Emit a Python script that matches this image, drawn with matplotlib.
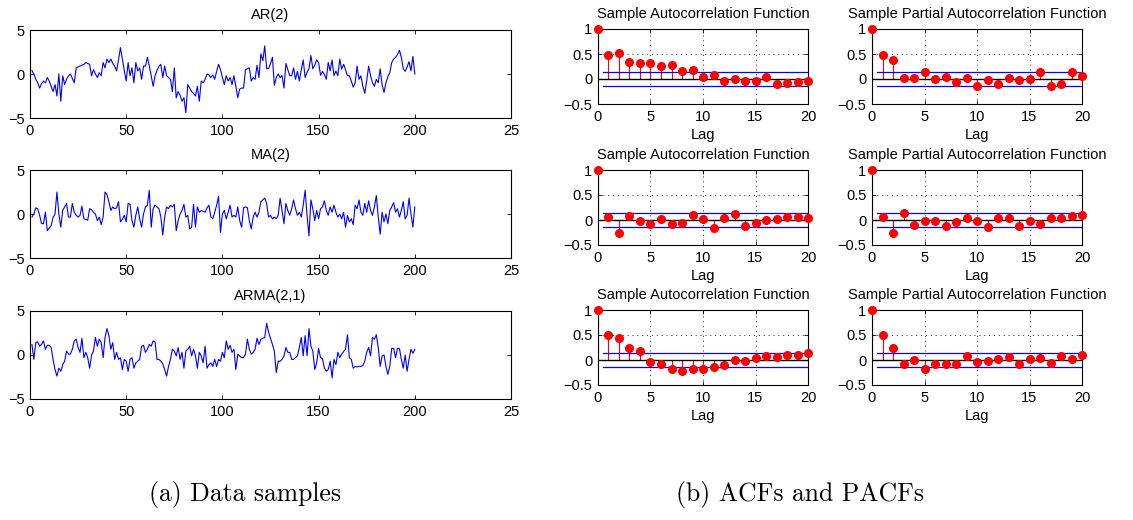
import numpy as np
import matplotlib.pyplot as plt

plt.rcParams['font.family'] = ['Liberation Sans', 'DejaVu Sans']

# simulated series, values (t = 1..200)
ar2 = [0.4, 0.0, -0.6, -1.0, -1.6, -1.1, -0.8, -1.0, -0.4, -0.8,
       -1.4, -2.0, -1.2, -2.5, 0.0, -3.1, -0.2, -1.2, -0.6, -0.2,
       0.0, -0.5, -1.0, 0.7, 0.8, 0.9, 1.0, 1.1, 1.3, 1.2,
       1.1, -0.2, 0.5, 0.0, -0.4, 0.15, -0.2, 1.3, 0.7, 1.7,
       1.3, 1.7, 1.2, 0.9, 0.35, 1.6, 3.0, 1.7, 0.4, -0.8,
       1.3, -0.2, 0.7, -1.0, 1.3, 0.35, 0.7, -0.6, 0.9, 0.9,
       1.9, 0.9, -0.2, -1.4, -0.2, 0.4, 0.9, 1.1, -0.4, 0.9,
       -0.2, -0.4, -0.6, -2.0, 0.7, -2.7, -2.0, -2.4, -3.1, -2.7,
       -4.4, -1.2, -1.6, -2.0, -2.2, -2.5, -1.4, -3.1, -0.8, -1.0,
       -0.6, 0.0, -0.1, -0.4, -0.1, -0.6, 0.3, 1.1, 0.5, -0.4,
       -1.2, -0.2, -0.8, -0.4, -1.2, -0.2, -1.4, -2.7, -1.7, -1.6,
       -1.6, 0.5, 0.6, 0.7, -0.8, -0.4, -0.6, 1.0, -0.4, 2.3,
       1.5, 3.2, 0.6, 0.6, 1.2, 1.9, -1.3, -0.4, 0.0, -0.4,
       -0.2, -1.6, 1.2, 0.5, -0.2, -0.2, 0.7, -0.6, 0.3, -0.8,
       0.5, 1.6, -0.4, 0.2, 0.6, 2.1, 0.6, 1.0, 1.6, 1.3,
       -0.15, 0.3, -0.05, -0.6, 1.3, 0.35, 1.6, -0.2, 0.35, -0.2,
       1.7, 0.55, 1.1, 0.5, -0.2, -0.2, -0.8, -1.5, -1.0, 0.9,
       -0.6, -0.2, -1.4, -2.2, -0.8, 0.9, -0.2, -1.0, -1.4, -0.6,
       -1.0, 0.6, -1.2, -2.1, -1.0, -0.3, 0.15, 1.3, 1.7, 1.9,
       2.2, 2.7, 1.9, 0.6, 0.3, 0.8, 1.4, 0.35, 2.0, 0.0]

ma2 = [-0.35, 0.0, 0.7, 0.6, -0.15, -1.1, -1.1, 0.2, -1.9, -1.6,
       -1.3, -0.4, 0.0, 2.5, 0.0, -1.5, 0.4, 0.8, 1.2, -0.35,
       -0.35, 1.2, 0.2, -0.15, -0.35, -0.15, 0.9, -0.55, -0.6, -0.7,
       0.6, 0.5, 0.2, 0.0, -0.75, -0.35, -1.2, -0.35, 2.5, 2.2,
       1.4, 0.4, 0.8, 0.6, 0.7, 1.4, -0.9, -0.6, -0.15, -0.9,
       1.2, 1.1, -0.75, -1.5, -0.15, 0.8, -0.55, -1.5, 0.0, 0.8,
       1.0, 2.7, -1.5, 0.6, 1.0, 0.8, 0.6, -0.3, -2.4, -0.35,
       0.8, 0.6, 1.0, 0.8, 1.1, -1.9, -0.75, 0.0, 0.4, 1.1,
       -0.35, -0.15, -1.7, -1.5, 1.1, -1.5, 0.8, 0.2, 0.4, 0.3,
       0.2, 0.7, 1.0, -0.35, -0.55, 0.2, 1.0, 2.0, -2.1, 0.0,
       0.4, -0.55, 0.2, 1.0, -0.35, -0.15, -0.35, 0.8, -0.75, -1.5,
       0.7, 0.8, 0.7, -0.75, -1.7, -0.35, 0.2, -0.35, 0.2, 1.4,
       1.6, 1.8, 1.2, -0.35, -0.15, -0.55, -0.35, -0.55, -0.15, 1.8,
       0.4, -1.1, 1.2, 0.4, -0.15, 0.6, 1.6, 0.6, -0.15, 0.2,
       -0.35, 1.0, 2.7, -0.15, -2.5, 1.6, 0.6, -0.75, 0.4, -0.55,
       0.6, 0.8, 1.5, 0.4, -0.15, 0.8, 0.2, 1.0, 0.2, -0.35,
       0.0, -0.55, 0.2, -1.5, -0.15, -0.9, -0.55, -1.2, 1.0, 0.6,
       1.6, 0.2, -0.15, 1.2, 0.2, 1.5, 0.4, -0.15, 0.8, 2.1,
       -0.35, -2.3, 0.2, -0.9, 0.0, -1.1, 0.4, 0.8, 1.3, 0.2,
       0.6, -0.35, 0.4, 1.4, -0.55, -0.15, 1.8, 0.0, -1.5, 0.8]

arma21 = [1.2, -0.5, 1.4, 1.5, 1.0, 1.2, 1.6, 0.65, 1.1, 1.1,
          0.85, -0.5, -1.65, -2.4, -1.5, -1.85, -1.1, -0.7, 0.45, 0.1,
          0.1, 0.65, 1.6, 1.8, 0.85, 0.3, 1.9, -0.3, 0.3, -0.3,
          -1.5, 0.0, 0.45, 2.0, 1.0, 1.8, 1.4, -0.3, 2.0, 3.0,
          2.2, 0.65, 1.4, -0.5, 0.3, -0.5, -0.3, -1.65, -0.5, -0.7,
          -1.85, -0.5, -0.3, -1.5, -0.9, -0.7, -0.5, 1.0, 1.1, 0.3,
          0.65, 1.2, 1.0, 1.6, 1.5, -0.5, -0.5, -0.7, -1.0, -1.65,
          -2.4, -1.3, -0.5, 0.65, 0.45, -0.1, 0.85, -0.5, 0.3, -1.5,
          0.45, 0.65, 1.0, -0.1, 0.65, -0.1, -1.5, 0.3, -0.1, -0.9,
          1.0, -1.5, -1.1, -0.9, -1.3, -0.5, -1.3, -0.5, -0.7, 0.3,
          -0.3, 1.6, 0.65, 1.1, 0.3, 0.65, -1.65, 0.1, -0.1, -0.3,
          -0.3, 0.1, 1.8, 0.65, 0.1, 0.3, 0.65, 1.9, 1.2, 1.8,
          1.9, 2.0, 3.6, 2.6, 1.9, 1.2, 0.45, -2.0, -0.7, -0.7,
          -0.5, -0.1, 0.85, 0.3, 0.3, -0.5, -0.5, -0.3, -0.1, 0.85,
          2.0, -0.1, 2.2, -0.1, 3.0, 1.0, 0.45, -1.65, -0.9, 0.75,
          -0.3, -0.4, -1.5, -1.85, -1.65, -0.7, -2.6, -0.5, -1.1, 0.3,
          -0.3, 0.1, 0.4, 0.65, 2.3, -0.3, -0.5, -1.5, -1.3, -1.35,
          -1.3, -1.3, -1.2, -0.7, 0.3, 0.85, -0.1, 2.0, 1.8, 2.3,
          0.85, -1.3, -0.1, 0.0, -1.3, -2.2, -1.3, 0.75, 0.75, -0.3,
          0.75, 0.75, -0.5, -1.5, 0.0, -1.85, -0.5, 0.65, 0.2, 0.65]

series_titles = ['AR(2)', 'MA(2)', 'ARMA(2,1)']
ts_xticks = [0, 50, 100, 150, 200, 250]
ts_xticklabels = ['0', '50', '100', '150', '200', '25']

lags = list(range(21))
acf = [
    [1, 0.49, 0.52, 0.35, 0.32, 0.33, 0.26, 0.28, 0.17, 0.19, 0.05,
     0.08, -0.03, 0.0, -0.03, -0.04, 0.05, -0.10, -0.08, -0.06, -0.03],
    [1, 0.07, -0.26, 0.08, -0.01, -0.07, 0.03, -0.07, -0.06, 0.10, 0.02,
     -0.15, 0.05, 0.13, -0.11, -0.06, 0.01, 0.03, 0.07, 0.07, 0.05],
    [1, 0.51, 0.44, 0.24, 0.18, -0.03, -0.08, -0.18, -0.22, -0.17, -0.18,
     -0.14, -0.09, 0.0, -0.01, 0.05, 0.08, 0.07, 0.10, 0.10, 0.15],
]
pacf = [
    [1, 0.49, 0.38, 0.02, 0.02, 0.14, 0.0, 0.05, -0.05, 0.03, -0.14,
     -0.01, -0.10, 0.02, -0.01, 0.0, 0.14, -0.14, -0.10, 0.14, 0.07],
    [1, 0.07, -0.26, 0.14, -0.10, -0.02, -0.01, -0.11, -0.03, 0.05, -0.02,
     -0.14, 0.05, 0.05, -0.11, -0.02, -0.07, 0.05, 0.04, 0.08, 0.10],
    [1, 0.51, 0.25, -0.07, 0.0, -0.18, -0.07, -0.07, -0.07, 0.08, -0.03,
     -0.02, 0.02, 0.06, -0.07, 0.03, 0.05, -0.05, 0.08, 0.02, 0.10],
]
bound = 0.141  # 2/sqrt(200)

W, H = 1133, 520
fig = plt.figure(figsize=(W / 100, H / 100), dpi=100)
FS = 10.5


def px_axes(x0, y0, x1, y1):
    return fig.add_axes([x0 / W, 1 - y1 / H, (x1 - x0) / W, (y1 - y0) / H])


def style(ax):
    ax.tick_params(direction='in', top=True, right=True, labelsize=FS,
                   length=3, width=0.6, pad=4)
    for s in ax.spines.values():
        s.set_linewidth(0.8)


ts_rows = [(30, 118), (170, 258), (311, 399)]
t = np.arange(1, 201)
for data, title, (y0, y1) in zip([ar2, ma2, arma21], series_titles, ts_rows):
    ax = px_axes(30, y0, 511, y1)
    ax.plot(t, data, color='#0000ff', lw=0.8)
    ax.set_xlim(0, 250)
    ax.set_ylim(-5, 5)
    ax.set_yticks([-5, 0, 5])
    ax.set_xticks(ts_xticks)
    ax.set_xticklabels(ts_xticklabels)
    ax.set_title(title, fontsize=FS, pad=8)
    style(ax)

cf_rows = [(29, 104), (170, 245), (310, 385)]
cf_cols = [(598, 808, 'Sample Autocorrelation Function', acf),
           (872, 1082, 'Sample Partial Autocorrelation Function', pacf)]
for i, (y0, y1) in enumerate(cf_rows):
    for x0, x1, title, vals in cf_cols:
        ax = px_axes(x0, y0, x1, y1)
        ax.grid(True, linestyle=(0, (1, 4)), color='#222222', lw=0.7)
        ax.set_axisbelow(True)
        ml, sl, bl = ax.stem(lags, vals[i], linefmt='r-', markerfmt='ro', basefmt='k-')
        plt.setp(sl, lw=0.8)
        plt.setp(ml, markersize=5.5, clip_on=False, zorder=4)
        plt.setp(bl, lw=1.0, color='black')
        ax.plot([0.5, 20], [bound, bound], color='#0000ff', lw=0.9)
        ax.plot([0.5, 20], [-bound, -bound], color='#0000ff', lw=0.9)
        ax.set_xlim(0, 20)
        ax.set_ylim(-0.5, 1)
        ax.set_xticks([0, 5, 10, 15, 20])
        ax.set_yticks([-0.5, 0, 0.5, 1])
        ax.set_yticklabels(['\u22120.5', '0', '0.5', '1'])
        ax.set_title(title, fontsize=FS, pad=8)
        ax.set_xlabel('Lag', fontsize=FS, labelpad=3)
        style(ax)

fig.text(245 / W, 1 - 495 / H, '(a) Data samples', family='cmr10',
         fontsize=18.5, ha='center', va='center')
fig.text(800 / W, 1 - 495 / H, '(b) ACFs and PACFs', family='cmr10',
         fontsize=18.5, ha='center', va='center')

fig.savefig('out.png', dpi=100)
